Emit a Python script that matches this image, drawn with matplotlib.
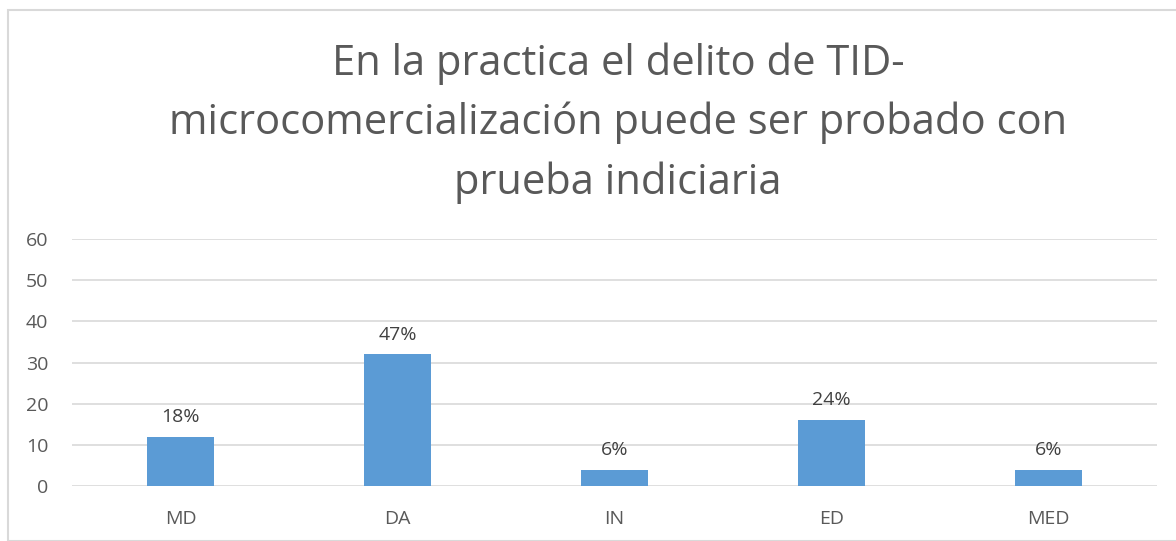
import matplotlib.pyplot as plt
from matplotlib.patches import Rectangle

categories = ['MD', 'DA', 'IN', 'ED', 'MED']
values = [12, 32, 4, 16, 4]
labels = ['18%', '47%', '6%', '24%', '6%']

plt.rcParams['font.family'] = ['Open Sans', 'DejaVu Sans']
W, H = 1176, 541
fig = plt.figure(figsize=(W / 100, H / 100), dpi=100)

# outer chart border (light gray)
fig.patches.append(Rectangle((8 / W, 0), 1.2, (H - 10) / H, transform=fig.transFigure,
                             fill=False, edgecolor='#d9d9d9', linewidth=1.5))

ax = fig.add_axes([72 / W, 55 / H, (1157 - 72) / W, (486 - 239) / H])
x = range(len(categories))
ax.bar(x, values, width=0.31, color='#5b9bd5', zorder=3)
for i, v in enumerate(values):
    ax.text(i, v + 2.6, labels[i], ha='center', va='bottom', fontsize=14, color='#404040')

ax.set_xlim(-0.5, 4.5)
ax.set_ylim(0, 60)
ax.set_yticks(range(0, 61, 10))
ax.set_xticks(list(x))
ax.set_xticklabels(categories)
ax.yaxis.grid(True, color='#d9d9d9', linewidth=1.2, zorder=0)
for s in ax.spines.values():
    s.set_visible(False)
ax.tick_params(length=0, labelsize=14, labelcolor='#595959')
ax.tick_params(axis='y', pad=17)
ax.tick_params(axis='x', pad=17)

fig.text(618 / W, 1 - 123 / H,
         'En la practica el delito de TID-\nmicrocomercialización puede ser probado con\nprueba indiciaria',
         ha='center', va='center', fontsize=30, color='#595959', linespacing=1.52)

fig.savefig('out.png', dpi=100)
